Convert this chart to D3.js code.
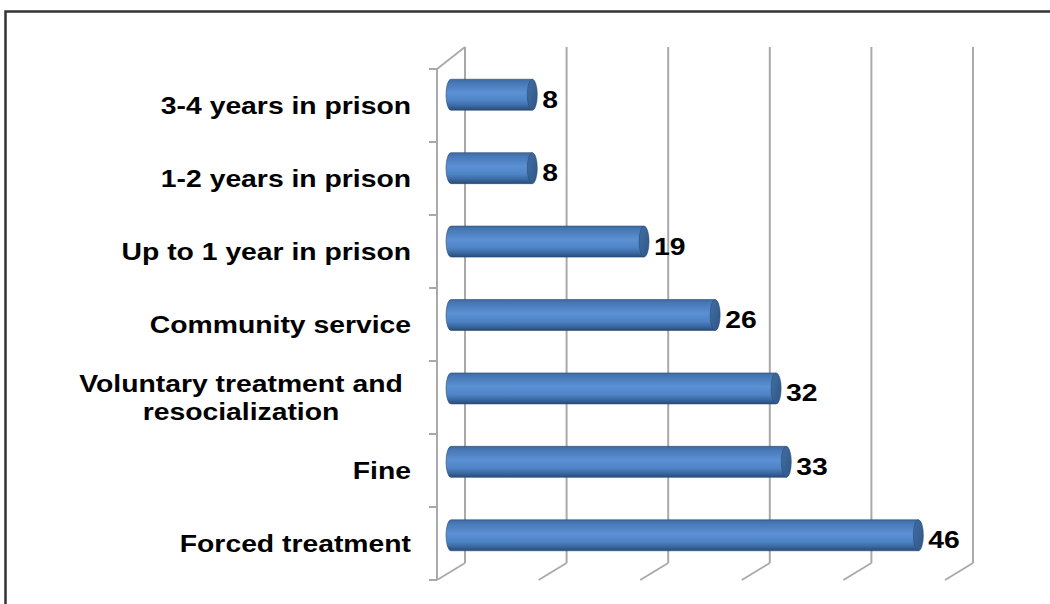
<!DOCTYPE html>
<html>
<head>
<meta charset="utf-8">
<script src="https://cdn.jsdelivr.net/npm/d3@7"></script>
<style>
  html, body { margin: 0; padding: 0; background: #fff; }
  svg { display: block; }
  text { font-family: "Liberation Sans", Arial, sans-serif; font-weight: bold; fill: #000; }
</style>
</head>
<body>
<svg id="chart" width="1050" height="604"></svg>
<script>
// Sentences chosen by respondents (count of answers)
const categories = [
  "3-4 years in prison",
  "1-2 years in prison",
  "Up to 1 year in prison",
  "Community service",
  "Voluntary treatment and resocialization",
  "Fine",
  "Forced treatment"
];
const values = [8, 8, 19, 26, 32, 33, 46];
const gridTicks = [0, 10, 20, 30, 40, 50];

const svg = d3.select("#chart");
const W = 1050, H = 604;

// Outer frame (right and bottom edges run off the canvas)
svg.append("rect")
  .attr("x", 5.5).attr("y", 11.5)
  .attr("width", W + 10).attr("height", H + 10)
  .attr("fill", "none").attr("stroke", "#333").attr("stroke-width", 2.5);

// Pseudo-3D planes: back wall, bar mid-plane and front plane
const xBack  = d3.scaleLinear().domain([0, 50]).range([465, 973]);
const xMid   = d3.scaleLinear().domain([0, 50]).range([451, 959]);
const xFront = d3.scaleLinear().domain([0, 50]).range([437, 945]);
const yFront = d3.scaleBand().domain(categories).range([69, 580]);
const yMid   = d3.scaleBand().domain(categories).range([58, 572]).paddingInner(0.578).paddingOuter(0.289);
const backTop = 47, backBottom = 563, frontTop = 69, frontBottom = 580;

const gridColor = "#a9a9a9";
const grid = svg.append("g");

// Vertical gridlines on the back wall
grid.selectAll("line.back")
  .data(gridTicks)
  .join("line")
  .attr("class", "back")
  .attr("x1", d => xBack(d)).attr("x2", d => xBack(d))
  .attr("y1", backTop).attr("y2", backBottom)
  .attr("stroke", gridColor).attr("stroke-width", 2);

// Floor lines receding from back wall to front
grid.selectAll("line.floor")
  .data(gridTicks)
  .join("line")
  .attr("class", "floor")
  .attr("x1", d => xBack(d)).attr("y1", backBottom)
  .attr("x2", d => xFront(d)).attr("y2", frontBottom)
  .attr("stroke", gridColor).attr("stroke-width", 1.8);

// Left wall: front edge and top diagonal
grid.append("line")
  .attr("x1", xFront(0)).attr("x2", xFront(0))
  .attr("y1", frontTop).attr("y2", frontBottom)
  .attr("stroke", gridColor).attr("stroke-width", 2);
grid.append("line")
  .attr("x1", xFront(0)).attr("y1", frontTop)
  .attr("x2", xBack(0)).attr("y2", backTop)
  .attr("stroke", gridColor).attr("stroke-width", 1.8);

// Category tick marks on the front edge
const edges = categories.map(c => yFront(c)).concat([frontBottom]);
grid.selectAll("line.tick")
  .data(edges)
  .join("line")
  .attr("class", "tick")
  .attr("x1", xFront(0) - 8).attr("x2", xFront(0))
  .attr("y1", d => d).attr("y2", d => d)
  .attr("stroke", gridColor).attr("stroke-width", 2);

// Cylinder shading
const defs = svg.append("defs");
const grad = defs.append("linearGradient")
  .attr("id", "cyl").attr("x1", 0).attr("y1", 0).attr("x2", 0).attr("y2", 1);
[
  [0, "#3d6aa2"], [0.12, "#4878b6"], [0.45, "#5b91d4"],
  [0.7, "#4e84c5"], [0.86, "#3b69a3"], [1, "#294b77"]
].forEach(([o, c]) => grad.append("stop").attr("offset", o).attr("stop-color", c));

const capGrad = defs.append("linearGradient")
  .attr("id", "cap").attr("x1", 0).attr("y1", 0).attr("x2", 1).attr("y2", 1);
capGrad.append("stop").attr("offset", 0).attr("stop-color", "#436ea4");
capGrad.append("stop").attr("offset", 1).attr("stop-color", "#2f5686");

const bh = yMid.bandwidth();
const rx = 5;
const bars = svg.append("g").selectAll("g.bar")
  .data(categories.map((c, i) => ({ c, v: values[i] })))
  .join("g").attr("class", "bar");

// Body with rounded left end
bars.append("path")
  .attr("d", d => {
    const y0 = yMid(d.c), y1 = y0 + bh, x0 = xMid(0), x1 = xMid(d.v);
    return `M${x0},${y0} L${x1},${y0} L${x1},${y1} L${x0},${y1} A${rx},${bh / 2} 0 0 1 ${x0},${y0} Z`;
  })
  .attr("fill", "url(#cyl)")
  .attr("stroke", "#2a4b75").attr("stroke-width", 0.6);

// Right end cap
bars.append("ellipse")
  .attr("cx", d => xMid(d.v))
  .attr("cy", d => yMid(d.c) + bh / 2)
  .attr("rx", rx).attr("ry", bh / 2)
  .attr("fill", "url(#cap)")
  .attr("stroke", "#2a4b75").attr("stroke-width", 0.6);

// Value labels
const sx = 1.18;
bars.append("text")
  .attr("transform", d => `translate(${xMid(d.v) + 10},${yMid(d.c) + bh / 2 + 13}) scale(${sx},1)`)
  .attr("font-size", 24)
  .text(d => d.v);

// Category labels (long ones wrap onto two lines)
const wrapped = {
  "Voluntary treatment and resocialization": ["Voluntary treatment and", "resocialization"]
};
const labels = svg.append("g").selectAll("text.cat")
  .data(categories)
  .join("text")
  .attr("class", "cat")
  .attr("font-size", 24)
  .attr("text-anchor", d => wrapped[d] ? "middle" : "end")
  .attr("transform", d => {
    const cy = yFront(d) + yFront.bandwidth() / 2;
    const x = wrapped[d] ? 241 : 411;
    return `translate(${x},${cy}) scale(${sx},1)`;
  });
labels.each(function (d) {
  const lines = wrapped[d] || [d];
  const t = d3.select(this);
  const lh = 28;
  lines.forEach((ln, i) => {
    t.append("tspan")
      .attr("x", 0)
      .attr("y", (i - (lines.length - 1) / 2) * lh + 8.6)
      .text(ln);
  });
});
</script>
</body>
</html>
